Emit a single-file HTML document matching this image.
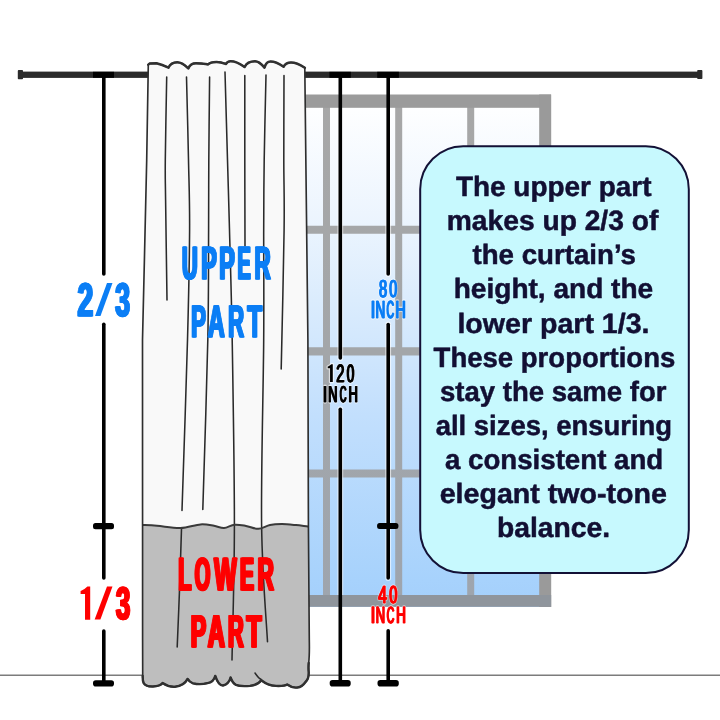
<!DOCTYPE html>
<html><head><meta charset="utf-8"><title>Curtain proportions</title>
<style>
html,body{margin:0;padding:0;background:#fff;width:720px;height:720px;overflow:hidden}
svg{display:block;will-change:transform}
text{font-family:"Liberation Sans",sans-serif;font-weight:bold;text-rendering:geometricPrecision}
</style></head><body>
<svg width="720" height="720" viewBox="0 0 720 720">
<defs>
<linearGradient id="glass" gradientUnits="userSpaceOnUse" x1="0" y1="100" x2="0" y2="600">
<stop offset="0" stop-color="#ffffff"/>
<stop offset="0.25" stop-color="#ebf4fe"/>
<stop offset="0.4" stop-color="#dbecfd"/>
<stop offset="0.632" stop-color="#c2dffd"/>
<stop offset="0.96" stop-color="#a7d2fc"/>
<stop offset="1" stop-color="#a5d0fb"/>
</linearGradient>
<linearGradient id="mull" gradientUnits="userSpaceOnUse" x1="0" y1="100" x2="0" y2="600">
<stop offset="0" stop-color="#a7a7a7"/>
<stop offset="0.5" stop-color="#a3a6a9"/>
<stop offset="1" stop-color="#9ea5ae"/>
</linearGradient>
<clipPath id="winclip"><rect x="300" y="108" width="240" height="487"/></clipPath>
<clipPath id="cclip"><path d="M148.3,64.6 L149.5,63.6 L156.5,63.2 Q162,64.5 168.5,67.6 C169.82,64.69 173.34,62.3 177.3,62.3 C182.25,62.3 186.1,66.27 188.3,68.4 C189.46,65.59 192.53,63.3 196,63.3 C201.4,63.3 205.6,64.02 208,64.4 C209.28,63.02 212.68,61.9 216.5,61.9 C220.78,61.9 224.1,63.27 226,64 C226.69,62.46 228.53,61.2 230.6,61.2 C236.9,61.2 241.8,64.97 244.6,67 C246.16,63.86 250.32,61.3 255,61.3 C259.27,61.3 262.6,65.39 264.5,67.6 C265.4,64.24 267.8,61.5 270.5,61.5 C276.39,61.5 280.98,64.94 283.6,66.8 C284.71,64.44 287.67,62.5 291,62.5 C297.21,62.5 302.04,65.94 304.8,67.8 L306.3,200 L307.9,340 L308.4,525 L309.3,640 Q309.6,655 308.7,663 Q308.3,668 308.7,672 Q309,679 305.5,682 Q302,687.1 297.5,687.5 Q292,688.1 287.2,684.5 Q284.5,686.2 276,685.9 Q268,685.7 261.3,680.3 Q258,684.9 250,685.9 Q240,686.7 236,684.9 Q232.4,682.9 230.6,677.5 Q229,683.9 223,685.5 Q218.5,685.7 215.3,675.9 Q213.5,682.4 207.5,683.1 Q200,685.1 193,683.3 Q189.2,681.9 187.6,678.9 Q184,685.9 175,686.7 Q168.5,687.2 162.6,683.1 Q160,686.4 153,686.5 Q145.5,686.7 143.6,683 Q142.6,681 142.7,676 L142.6,640 L142.5,340 L144.4,260 L146.7,160 Z"/></clipPath>
</defs>
<rect width="720" height="720" fill="#fff"/>
<rect x="250" y="94.5" width="301" height="512.5" fill="url(#glass)"/>
<path d="M323,107h7V596h-7ZM395.2,107h7V596h-7ZM467.2,107h7V596h-7ZM250,225.8H540v8H250ZM250,347.3H540v8.3H250ZM250,469.6H540v7.9H250Z" fill="url(#mull)"/>
<rect x="250" y="94.5" width="301" height="13.3" fill="#9b9b9b"/>
<rect x="539.2" y="94.5" width="12" height="512.5" fill="#9a9a9a"/>
<rect x="250" y="595" width="301.2" height="11.8" fill="#8f959c"/>
<line x1="0" y1="675.3" x2="720" y2="675.3" stroke="#7c7c7c" stroke-width="1.4"/>
<rect x="18" y="71.6" width="683" height="6.3" fill="#2b2b2b"/>
<rect x="17.8" y="70.1" width="5.2" height="9.1" rx="0.8" fill="#2b2b2b"/>
<rect x="697.2" y="70.1" width="5.2" height="9.0" rx="0.8" fill="#2b2b2b"/>
<g clip-path="url(#cclip)">
<rect x="130" y="55" width="190" height="640" fill="#f9f9f9"/>
<path d="M138,524.7 C138.58,524.73 138.33,524.72 141.5,524.9 C144.67,525.08 150.5,525.27 157,525.8 C163.5,526.33 173.25,528.33 180.5,528.1 C187.75,527.87 194.92,524.78 200.5,524.4 C206.08,524.02 210.08,525.18 214,525.8 C217.92,526.42 220.58,528.28 224,528.1 C227.42,527.92 230.83,525.07 234.5,524.7 C238.17,524.33 242.03,525.22 246,525.9 C249.97,526.58 254.3,528.95 258.3,528.8 C262.3,528.65 266.05,525.78 270,525 C273.95,524.22 277.67,524.08 282,524.1 C286.33,524.12 291.67,524.7 296,525.1 C300.33,525.5 305.33,526.23 308,526.5 C310.67,526.77 311.33,526.67 312,526.7 L314,700 L136,700 Z" fill="#bebebe"/>
</g>
<path d="M166.7,77.1 C166.47,90.92 165.48,139.52 165.3,160 C165.12,180.48 165.32,176.67 165.6,200 C165.88,223.33 166.77,283.33 167,300 M186.5,77 C186.83,90.83 187.98,134.5 188.5,160 C189.02,185.5 189.77,200 189.6,230 C189.43,260 188.77,293.25 187.5,340 C186.23,386.75 182.92,482.08 182,510.5 M209.6,77 C209.47,90.83 208.97,134.5 208.8,160 C208.63,185.5 208.77,200 208.6,230 C208.43,260 208.77,293.43 207.8,340 C206.83,386.57 203.63,481.17 202.8,509.4 M225,72 C225.42,86.67 226.75,133.67 227.5,160 C228.25,186.33 228.72,200 229.5,230 C230.28,260 231.38,290.83 232.2,340 C233.02,389.17 234.43,471.67 234.4,525 C234.37,578.33 232.4,637.5 232,660 M244.8,75.6 C244.8,89.67 244.77,131.6 244.8,160 C244.83,188.4 244.97,231.67 245,246 M266,75 C265.7,89.17 264.58,134.17 264.2,160 C263.82,185.83 263.78,200 263.7,230 C263.62,260 264.05,290.83 263.7,340 C263.35,389.17 260.97,474.72 261.6,525 C262.23,575.28 266.52,622.25 267.5,641.7 M284,75.6 C283.97,89.67 283.78,134.27 283.8,160 C283.82,185.73 284.53,195.17 284.1,230 C283.67,264.83 281.68,345.83 281.2,369 M181.5,528.8 C181.17,539 180.22,570.3 179.5,590 C178.78,609.7 177.58,637.5 177.2,647 M255,673.1 C255.58,673.83 257.45,676.42 258.5,677.5 C259.55,678.58 260.83,679.25 261.3,679.6" fill="none" stroke="#2a2a2a" stroke-width="1.55" stroke-linecap="round"/>
<path d="M138,524.7 C138.58,524.73 138.33,524.72 141.5,524.9 C144.67,525.08 150.5,525.27 157,525.8 C163.5,526.33 173.25,528.33 180.5,528.1 C187.75,527.87 194.92,524.78 200.5,524.4 C206.08,524.02 210.08,525.18 214,525.8 C217.92,526.42 220.58,528.28 224,528.1 C227.42,527.92 230.83,525.07 234.5,524.7 C238.17,524.33 242.03,525.22 246,525.9 C249.97,526.58 254.3,528.95 258.3,528.8 C262.3,528.65 266.05,525.78 270,525 C273.95,524.22 277.67,524.08 282,524.1 C286.33,524.12 291.67,524.7 296,525.1 C300.33,525.5 305.33,526.23 308,526.5 C310.67,526.77 311.33,526.67 312,526.7" fill="none" stroke="#3a3a3a" stroke-width="2" clip-path="url(#cclip)"/>
<path d="M148.3,64.6 L149.5,63.6 L156.5,63.2 Q162,64.5 168.5,67.6 C169.82,64.69 173.34,62.3 177.3,62.3 C182.25,62.3 186.1,66.27 188.3,68.4 C189.46,65.59 192.53,63.3 196,63.3 C201.4,63.3 205.6,64.02 208,64.4 C209.28,63.02 212.68,61.9 216.5,61.9 C220.78,61.9 224.1,63.27 226,64 C226.69,62.46 228.53,61.2 230.6,61.2 C236.9,61.2 241.8,64.97 244.6,67 C246.16,63.86 250.32,61.3 255,61.3 C259.27,61.3 262.6,65.39 264.5,67.6 C265.4,64.24 267.8,61.5 270.5,61.5 C276.39,61.5 280.98,64.94 283.6,66.8 C284.71,64.44 287.67,62.5 291,62.5 C297.21,62.5 302.04,65.94 304.8,67.8 L306.3,200 L307.9,340 L308.4,525 L309.3,640 Q309.6,655 308.7,663 Q308.3,668 308.7,672 Q309,679 305.5,682 Q302,687.1 297.5,687.5 Q292,688.1 287.2,684.5 Q284.5,686.2 276,685.9 Q268,685.7 261.3,680.3 Q258,684.9 250,685.9 Q240,686.7 236,684.9 Q232.4,682.9 230.6,677.5 Q229,683.9 223,685.5 Q218.5,685.7 215.3,675.9 Q213.5,682.4 207.5,683.1 Q200,685.1 193,683.3 Q189.2,681.9 187.6,678.9 Q184,685.9 175,686.7 Q168.5,687.2 162.6,683.1 Q160,686.4 153,686.5 Q145.5,686.7 143.6,683 Q142.6,681 142.7,676 L142.6,640 L142.5,340 L144.4,260 L146.7,160 Z" fill="none" stroke="#2e2e2e" stroke-width="1.65" stroke-linejoin="round"/>
<path d="M148.3,64.6 L149.5,63.6 L156.5,63.2 Q162,64.5 168.5,67.6 C169.82,64.69 173.34,62.3 177.3,62.3 C182.25,62.3 186.1,66.27 188.3,68.4 C189.46,65.59 192.53,63.3 196,63.3 C201.4,63.3 205.6,64.02 208,64.4 C209.28,63.02 212.68,61.9 216.5,61.9 C220.78,61.9 224.1,63.27 226,64 C226.69,62.46 228.53,61.2 230.6,61.2 C236.9,61.2 241.8,64.97 244.6,67 C246.16,63.86 250.32,61.3 255,61.3 C259.27,61.3 262.6,65.39 264.5,67.6 C265.4,64.24 267.8,61.5 270.5,61.5 C276.39,61.5 280.98,64.94 283.6,66.8 C284.71,64.44 287.67,62.5 291,62.5 C297.21,62.5 302.04,65.94 304.8,67.8" fill="none" stroke="#303030" stroke-width="2.5" stroke-linejoin="round" stroke-linecap="round"/>
<path d="M308.7,663 Q308.3,668 308.7,672 Q309,679 305.5,682 Q302,687.1 297.5,687.5 Q292,688.1 287.2,684.5 Q284.5,686.2 276,685.9 Q268,685.7 261.3,680.3 Q258,684.9 250,685.9 Q240,686.7 236,684.9 Q232.4,682.9 230.6,677.5 Q229,683.9 223,685.5 Q218.5,685.7 215.3,675.9 Q213.5,682.4 207.5,683.1 Q200,685.1 193,683.3 Q189.2,681.9 187.6,678.9 Q184,685.9 175,686.7 Q168.5,687.2 162.6,683.1 Q160,686.4 153,686.5 Q145.5,686.7 143.6,683 Q142.6,681 142.7,676" fill="none" stroke="#303030" stroke-width="2.4" stroke-linejoin="round" stroke-linecap="round"/>
<g stroke="#fff" stroke-opacity="0.6" stroke-width="5.8" stroke-linecap="round" clip-path="url(#winclip)">
<line x1="340.3" y1="75" x2="340.3" y2="358"/>
<line x1="340.3" y1="409.2" x2="340.3" y2="683"/>
<line x1="388.2" y1="75" x2="388.2" y2="274"/>
<line x1="388.2" y1="324.5" x2="388.2" y2="578"/>
<line x1="388.2" y1="630.8" x2="388.2" y2="683"/>
</g>
<g stroke="#000" stroke-width="3.6" stroke-linecap="round">
<line x1="103.8" y1="75" x2="103.8" y2="274"/>
<line x1="103.8" y1="324.2" x2="103.8" y2="578"/>
<line x1="103.8" y1="631" x2="103.8" y2="683"/>
<line x1="340.3" y1="75" x2="340.3" y2="358"/>
<line x1="340.3" y1="409.2" x2="340.3" y2="683"/>
<line x1="388.2" y1="75" x2="388.2" y2="274"/>
<line x1="388.2" y1="324.5" x2="388.2" y2="578"/>
<line x1="388.2" y1="630.8" x2="388.2" y2="683"/>
</g>
<g fill="#000">
<rect x="93" y="71.8" width="21" height="6" rx="0"/>
<rect x="329.4" y="71.8" width="21.4" height="6" rx="0"/>
<rect x="377.2" y="71.8" width="21.7" height="6" rx="0"/>
<rect x="93" y="522.9" width="21" height="6.3" rx="2.5"/>
<rect x="377.1" y="522.9" width="21.3" height="6.2" rx="2.5"/>
<rect x="93" y="680.2" width="21" height="6.3" rx="2.8"/>
<rect x="329.7" y="680" width="21" height="6.5" rx="2.8"/>
<rect x="377.5" y="680" width="21.3" height="6.5" rx="2.8"/>
</g>
<rect x="420.2" y="146.2" width="268.6" height="426.9" rx="43" ry="43" fill="#c7f9fe" stroke="#131136" stroke-width="2"/>
<path d="M330.05,382.1 L332.8,382.1 L332.8,364.2 L331.32,364.2 Q329.79,365.81 328.01,366.44 L327.7,366.53 L327.7,368.23 L330.05,368.23 Z" fill="#fff" stroke="#fff" stroke-opacity="0.6" stroke-width="2.4" stroke-linejoin="round"/>
<text x="335.84" y="381.67" font-size="24.92" fill="#fff" textLength="8.16" lengthAdjust="spacingAndGlyphs" stroke="#fff" stroke-opacity="0.3" stroke-width="2.9" stroke-linejoin="round" style="font-weight:normal">2</text><text x="336.34" y="381.67" font-size="24.92" fill="#fff" textLength="8.16" lengthAdjust="spacingAndGlyphs" stroke="#fff" stroke-opacity="0.3" stroke-width="2.9" stroke-linejoin="round" style="font-weight:normal">2</text><text x="336.84" y="381.67" font-size="24.92" fill="#fff" textLength="8.16" lengthAdjust="spacingAndGlyphs" stroke="#fff" stroke-opacity="0.3" stroke-width="2.9" stroke-linejoin="round" style="font-weight:normal">2</text>
<text x="346.32" y="381.67" font-size="24.92" fill="#fff" textLength="7.5" lengthAdjust="spacingAndGlyphs" stroke="#fff" stroke-opacity="0.3" stroke-width="2.9" stroke-linejoin="round" style="font-weight:normal">0</text><text x="346.82" y="381.67" font-size="24.92" fill="#fff" textLength="7.5" lengthAdjust="spacingAndGlyphs" stroke="#fff" stroke-opacity="0.3" stroke-width="2.9" stroke-linejoin="round" style="font-weight:normal">0</text><text x="347.32" y="381.67" font-size="24.92" fill="#fff" textLength="7.5" lengthAdjust="spacingAndGlyphs" stroke="#fff" stroke-opacity="0.3" stroke-width="2.9" stroke-linejoin="round" style="font-weight:normal">0</text>
<text x="322.49" y="402" font-size="23.06" fill="#fff" textLength="3.99" lengthAdjust="spacingAndGlyphs" stroke="#fff" stroke-opacity="0.3" stroke-width="2.9" stroke-linejoin="round" style="font-weight:normal">I</text><text x="322.99" y="402" font-size="23.06" fill="#fff" textLength="3.99" lengthAdjust="spacingAndGlyphs" stroke="#fff" stroke-opacity="0.3" stroke-width="2.9" stroke-linejoin="round" style="font-weight:normal">I</text><text x="323.49" y="402" font-size="23.06" fill="#fff" textLength="3.99" lengthAdjust="spacingAndGlyphs" stroke="#fff" stroke-opacity="0.3" stroke-width="2.9" stroke-linejoin="round" style="font-weight:normal">I</text>
<text x="327.83" y="402" font-size="23.06" fill="#fff" textLength="9.24" lengthAdjust="spacingAndGlyphs" stroke="#fff" stroke-opacity="0.3" stroke-width="2.9" stroke-linejoin="round" style="font-weight:normal">N</text><text x="328.33" y="402" font-size="23.06" fill="#fff" textLength="9.24" lengthAdjust="spacingAndGlyphs" stroke="#fff" stroke-opacity="0.3" stroke-width="2.9" stroke-linejoin="round" style="font-weight:normal">N</text><text x="328.83" y="402" font-size="23.06" fill="#fff" textLength="9.24" lengthAdjust="spacingAndGlyphs" stroke="#fff" stroke-opacity="0.3" stroke-width="2.9" stroke-linejoin="round" style="font-weight:normal">N</text>
<text x="339.16" y="402" font-size="23.06" fill="#fff" textLength="6.73" lengthAdjust="spacingAndGlyphs" stroke="#fff" stroke-opacity="0.3" stroke-width="2.9" stroke-linejoin="round" style="font-weight:normal">C</text><text x="339.66" y="402" font-size="23.06" fill="#fff" textLength="6.73" lengthAdjust="spacingAndGlyphs" stroke="#fff" stroke-opacity="0.3" stroke-width="2.9" stroke-linejoin="round" style="font-weight:normal">C</text><text x="340.16" y="402" font-size="23.06" fill="#fff" textLength="6.73" lengthAdjust="spacingAndGlyphs" stroke="#fff" stroke-opacity="0.3" stroke-width="2.9" stroke-linejoin="round" style="font-weight:normal">C</text>
<text x="347.92" y="402" font-size="23.06" fill="#fff" textLength="9.31" lengthAdjust="spacingAndGlyphs" stroke="#fff" stroke-opacity="0.3" stroke-width="2.9" stroke-linejoin="round" style="font-weight:normal">H</text><text x="348.42" y="402" font-size="23.06" fill="#fff" textLength="9.31" lengthAdjust="spacingAndGlyphs" stroke="#fff" stroke-opacity="0.3" stroke-width="2.9" stroke-linejoin="round" style="font-weight:normal">H</text><text x="348.92" y="402" font-size="23.06" fill="#fff" textLength="9.31" lengthAdjust="spacingAndGlyphs" stroke="#fff" stroke-opacity="0.3" stroke-width="2.9" stroke-linejoin="round" style="font-weight:normal">H</text>
<text x="378.38" y="297.12" font-size="24.49" fill="#fff" textLength="8.15" lengthAdjust="spacingAndGlyphs" stroke="#fff" stroke-opacity="0.3" stroke-width="2.95" stroke-linejoin="round" style="font-weight:normal">8</text><text x="378.88" y="297.12" font-size="24.49" fill="#fff" textLength="8.15" lengthAdjust="spacingAndGlyphs" stroke="#fff" stroke-opacity="0.3" stroke-width="2.95" stroke-linejoin="round" style="font-weight:normal">8</text><text x="379.38" y="297.12" font-size="24.49" fill="#fff" textLength="8.15" lengthAdjust="spacingAndGlyphs" stroke="#fff" stroke-opacity="0.3" stroke-width="2.95" stroke-linejoin="round" style="font-weight:normal">8</text>
<text x="388.63" y="297.12" font-size="24.49" fill="#fff" textLength="7.95" lengthAdjust="spacingAndGlyphs" stroke="#fff" stroke-opacity="0.3" stroke-width="2.95" stroke-linejoin="round" style="font-weight:normal">0</text><text x="389.13" y="297.12" font-size="24.49" fill="#fff" textLength="7.95" lengthAdjust="spacingAndGlyphs" stroke="#fff" stroke-opacity="0.3" stroke-width="2.95" stroke-linejoin="round" style="font-weight:normal">0</text><text x="389.63" y="297.12" font-size="24.49" fill="#fff" textLength="7.95" lengthAdjust="spacingAndGlyphs" stroke="#fff" stroke-opacity="0.3" stroke-width="2.95" stroke-linejoin="round" style="font-weight:normal">0</text>
<text x="370.26" y="317.78" font-size="24.59" fill="#fff" textLength="4.49" lengthAdjust="spacingAndGlyphs" stroke="#fff" stroke-opacity="0.3" stroke-width="2.95" stroke-linejoin="round" style="font-weight:normal">I</text><text x="370.76" y="317.78" font-size="24.59" fill="#fff" textLength="4.49" lengthAdjust="spacingAndGlyphs" stroke="#fff" stroke-opacity="0.3" stroke-width="2.95" stroke-linejoin="round" style="font-weight:normal">I</text><text x="371.26" y="317.78" font-size="24.59" fill="#fff" textLength="4.49" lengthAdjust="spacingAndGlyphs" stroke="#fff" stroke-opacity="0.3" stroke-width="2.95" stroke-linejoin="round" style="font-weight:normal">I</text>
<text x="375.05" y="317.78" font-size="24.59" fill="#fff" textLength="9.7" lengthAdjust="spacingAndGlyphs" stroke="#fff" stroke-opacity="0.3" stroke-width="2.95" stroke-linejoin="round" style="font-weight:normal">N</text><text x="375.55" y="317.78" font-size="24.59" fill="#fff" textLength="9.7" lengthAdjust="spacingAndGlyphs" stroke="#fff" stroke-opacity="0.3" stroke-width="2.95" stroke-linejoin="round" style="font-weight:normal">N</text><text x="376.05" y="317.78" font-size="24.59" fill="#fff" textLength="9.7" lengthAdjust="spacingAndGlyphs" stroke="#fff" stroke-opacity="0.3" stroke-width="2.95" stroke-linejoin="round" style="font-weight:normal">N</text>
<text x="385.98" y="317.78" font-size="24.59" fill="#fff" textLength="7.59" lengthAdjust="spacingAndGlyphs" stroke="#fff" stroke-opacity="0.3" stroke-width="2.95" stroke-linejoin="round" style="font-weight:normal">C</text><text x="386.48" y="317.78" font-size="24.59" fill="#fff" textLength="7.59" lengthAdjust="spacingAndGlyphs" stroke="#fff" stroke-opacity="0.3" stroke-width="2.95" stroke-linejoin="round" style="font-weight:normal">C</text><text x="386.98" y="317.78" font-size="24.59" fill="#fff" textLength="7.59" lengthAdjust="spacingAndGlyphs" stroke="#fff" stroke-opacity="0.3" stroke-width="2.95" stroke-linejoin="round" style="font-weight:normal">C</text>
<text x="395.04" y="317.78" font-size="24.59" fill="#fff" textLength="10.23" lengthAdjust="spacingAndGlyphs" stroke="#fff" stroke-opacity="0.3" stroke-width="2.95" stroke-linejoin="round" style="font-weight:normal">H</text><text x="395.54" y="317.78" font-size="24.59" fill="#fff" textLength="10.23" lengthAdjust="spacingAndGlyphs" stroke="#fff" stroke-opacity="0.3" stroke-width="2.95" stroke-linejoin="round" style="font-weight:normal">H</text><text x="396.04" y="317.78" font-size="24.59" fill="#fff" textLength="10.23" lengthAdjust="spacingAndGlyphs" stroke="#fff" stroke-opacity="0.3" stroke-width="2.95" stroke-linejoin="round" style="font-weight:normal">H</text>
<text x="377.81" y="602.95" font-size="24.52" fill="#fff" textLength="8.66" lengthAdjust="spacingAndGlyphs" stroke="#fff" stroke-opacity="0.3" stroke-width="2.8" stroke-linejoin="round" style="font-weight:normal">4</text><text x="378.31" y="602.95" font-size="24.52" fill="#fff" textLength="8.66" lengthAdjust="spacingAndGlyphs" stroke="#fff" stroke-opacity="0.3" stroke-width="2.8" stroke-linejoin="round" style="font-weight:normal">4</text><text x="378.81" y="602.95" font-size="24.52" fill="#fff" textLength="8.66" lengthAdjust="spacingAndGlyphs" stroke="#fff" stroke-opacity="0.3" stroke-width="2.8" stroke-linejoin="round" style="font-weight:normal">4</text>
<text x="388.84" y="602.95" font-size="24.52" fill="#fff" textLength="8.1" lengthAdjust="spacingAndGlyphs" stroke="#fff" stroke-opacity="0.3" stroke-width="2.8" stroke-linejoin="round" style="font-weight:normal">0</text><text x="389.34" y="602.95" font-size="24.52" fill="#fff" textLength="8.1" lengthAdjust="spacingAndGlyphs" stroke="#fff" stroke-opacity="0.3" stroke-width="2.8" stroke-linejoin="round" style="font-weight:normal">0</text><text x="389.84" y="602.95" font-size="24.52" fill="#fff" textLength="8.1" lengthAdjust="spacingAndGlyphs" stroke="#fff" stroke-opacity="0.3" stroke-width="2.8" stroke-linejoin="round" style="font-weight:normal">0</text>
<text x="370.22" y="623.44" font-size="23.36" fill="#fff" textLength="4.46" lengthAdjust="spacingAndGlyphs" stroke="#fff" stroke-opacity="0.3" stroke-width="2.8" stroke-linejoin="round" style="font-weight:normal">I</text><text x="370.72" y="623.44" font-size="23.36" fill="#fff" textLength="4.46" lengthAdjust="spacingAndGlyphs" stroke="#fff" stroke-opacity="0.3" stroke-width="2.8" stroke-linejoin="round" style="font-weight:normal">I</text><text x="371.22" y="623.44" font-size="23.36" fill="#fff" textLength="4.46" lengthAdjust="spacingAndGlyphs" stroke="#fff" stroke-opacity="0.3" stroke-width="2.8" stroke-linejoin="round" style="font-weight:normal">I</text>
<text x="375.25" y="623.44" font-size="23.36" fill="#fff" textLength="9.35" lengthAdjust="spacingAndGlyphs" stroke="#fff" stroke-opacity="0.3" stroke-width="2.8" stroke-linejoin="round" style="font-weight:normal">N</text><text x="375.75" y="623.44" font-size="23.36" fill="#fff" textLength="9.35" lengthAdjust="spacingAndGlyphs" stroke="#fff" stroke-opacity="0.3" stroke-width="2.8" stroke-linejoin="round" style="font-weight:normal">N</text><text x="376.25" y="623.44" font-size="23.36" fill="#fff" textLength="9.35" lengthAdjust="spacingAndGlyphs" stroke="#fff" stroke-opacity="0.3" stroke-width="2.8" stroke-linejoin="round" style="font-weight:normal">N</text>
<text x="386.22" y="623.44" font-size="23.36" fill="#fff" textLength="7.52" lengthAdjust="spacingAndGlyphs" stroke="#fff" stroke-opacity="0.3" stroke-width="2.8" stroke-linejoin="round" style="font-weight:normal">C</text><text x="386.72" y="623.44" font-size="23.36" fill="#fff" textLength="7.52" lengthAdjust="spacingAndGlyphs" stroke="#fff" stroke-opacity="0.3" stroke-width="2.8" stroke-linejoin="round" style="font-weight:normal">C</text><text x="387.22" y="623.44" font-size="23.36" fill="#fff" textLength="7.52" lengthAdjust="spacingAndGlyphs" stroke="#fff" stroke-opacity="0.3" stroke-width="2.8" stroke-linejoin="round" style="font-weight:normal">C</text>
<text x="395.83" y="623.44" font-size="23.36" fill="#fff" textLength="9.51" lengthAdjust="spacingAndGlyphs" stroke="#fff" stroke-opacity="0.3" stroke-width="2.8" stroke-linejoin="round" style="font-weight:normal">H</text><text x="396.33" y="623.44" font-size="23.36" fill="#fff" textLength="9.51" lengthAdjust="spacingAndGlyphs" stroke="#fff" stroke-opacity="0.3" stroke-width="2.8" stroke-linejoin="round" style="font-weight:normal">H</text><text x="396.83" y="623.44" font-size="23.36" fill="#fff" textLength="9.51" lengthAdjust="spacingAndGlyphs" stroke="#fff" stroke-opacity="0.3" stroke-width="2.8" stroke-linejoin="round" style="font-weight:normal">H</text>
<text x="181.21" y="279.08" font-size="46.35" fill="#0b7ef5" textLength="15.91" lengthAdjust="spacingAndGlyphs" stroke="#0b7ef5" stroke-width="1.2" stroke-linejoin="round">U</text><text x="181.81" y="279.08" font-size="46.35" fill="#0b7ef5" textLength="15.91" lengthAdjust="spacingAndGlyphs" stroke="#0b7ef5" stroke-width="1.2" stroke-linejoin="round">U</text><text x="182.41" y="279.08" font-size="46.35" fill="#0b7ef5" textLength="15.91" lengthAdjust="spacingAndGlyphs" stroke="#0b7ef5" stroke-width="1.2" stroke-linejoin="round">U</text>
<text x="200.47" y="279.08" font-size="46.35" fill="#0b7ef5" textLength="15.78" lengthAdjust="spacingAndGlyphs" stroke="#0b7ef5" stroke-width="1.2" stroke-linejoin="round">P</text><text x="201.07" y="279.08" font-size="46.35" fill="#0b7ef5" textLength="15.78" lengthAdjust="spacingAndGlyphs" stroke="#0b7ef5" stroke-width="1.2" stroke-linejoin="round">P</text><text x="201.67" y="279.08" font-size="46.35" fill="#0b7ef5" textLength="15.78" lengthAdjust="spacingAndGlyphs" stroke="#0b7ef5" stroke-width="1.2" stroke-linejoin="round">P</text>
<text x="218.45" y="279.08" font-size="46.35" fill="#0b7ef5" textLength="15.82" lengthAdjust="spacingAndGlyphs" stroke="#0b7ef5" stroke-width="1.2" stroke-linejoin="round">P</text><text x="219.05" y="279.08" font-size="46.35" fill="#0b7ef5" textLength="15.82" lengthAdjust="spacingAndGlyphs" stroke="#0b7ef5" stroke-width="1.2" stroke-linejoin="round">P</text><text x="219.65" y="279.08" font-size="46.35" fill="#0b7ef5" textLength="15.82" lengthAdjust="spacingAndGlyphs" stroke="#0b7ef5" stroke-width="1.2" stroke-linejoin="round">P</text>
<text x="236.81" y="279.08" font-size="46.35" fill="#0b7ef5" textLength="13.4" lengthAdjust="spacingAndGlyphs" stroke="#0b7ef5" stroke-width="1.2" stroke-linejoin="round">E</text><text x="237.41" y="279.08" font-size="46.35" fill="#0b7ef5" textLength="13.4" lengthAdjust="spacingAndGlyphs" stroke="#0b7ef5" stroke-width="1.2" stroke-linejoin="round">E</text><text x="238.01" y="279.08" font-size="46.35" fill="#0b7ef5" textLength="13.4" lengthAdjust="spacingAndGlyphs" stroke="#0b7ef5" stroke-width="1.2" stroke-linejoin="round">E</text>
<text x="253.86" y="279.08" font-size="46.35" fill="#0b7ef5" textLength="16.34" lengthAdjust="spacingAndGlyphs" stroke="#0b7ef5" stroke-width="1.2" stroke-linejoin="round">R</text><text x="254.46" y="279.08" font-size="46.35" fill="#0b7ef5" textLength="16.34" lengthAdjust="spacingAndGlyphs" stroke="#0b7ef5" stroke-width="1.2" stroke-linejoin="round">R</text><text x="255.06" y="279.08" font-size="46.35" fill="#0b7ef5" textLength="16.34" lengthAdjust="spacingAndGlyphs" stroke="#0b7ef5" stroke-width="1.2" stroke-linejoin="round">R</text>
<text x="190.52" y="336.53" font-size="45.32" fill="#0b7ef5" textLength="14.83" lengthAdjust="spacingAndGlyphs" stroke="#0b7ef5" stroke-width="1.2" stroke-linejoin="round">P</text><text x="191.12" y="336.53" font-size="45.32" fill="#0b7ef5" textLength="14.83" lengthAdjust="spacingAndGlyphs" stroke="#0b7ef5" stroke-width="1.2" stroke-linejoin="round">P</text><text x="191.72" y="336.53" font-size="45.32" fill="#0b7ef5" textLength="14.83" lengthAdjust="spacingAndGlyphs" stroke="#0b7ef5" stroke-width="1.2" stroke-linejoin="round">P</text>
<text x="207.29" y="336.53" font-size="45.32" fill="#0b7ef5" textLength="16.82" lengthAdjust="spacingAndGlyphs" stroke="#0b7ef5" stroke-width="1.2" stroke-linejoin="round">A</text><text x="207.89" y="336.53" font-size="45.32" fill="#0b7ef5" textLength="16.82" lengthAdjust="spacingAndGlyphs" stroke="#0b7ef5" stroke-width="1.2" stroke-linejoin="round">A</text><text x="208.49" y="336.53" font-size="45.32" fill="#0b7ef5" textLength="16.82" lengthAdjust="spacingAndGlyphs" stroke="#0b7ef5" stroke-width="1.2" stroke-linejoin="round">A</text>
<text x="227.53" y="336.53" font-size="45.32" fill="#0b7ef5" textLength="15.94" lengthAdjust="spacingAndGlyphs" stroke="#0b7ef5" stroke-width="1.2" stroke-linejoin="round">R</text><text x="228.13" y="336.53" font-size="45.32" fill="#0b7ef5" textLength="15.94" lengthAdjust="spacingAndGlyphs" stroke="#0b7ef5" stroke-width="1.2" stroke-linejoin="round">R</text><text x="228.73" y="336.53" font-size="45.32" fill="#0b7ef5" textLength="15.94" lengthAdjust="spacingAndGlyphs" stroke="#0b7ef5" stroke-width="1.2" stroke-linejoin="round">R</text>
<text x="246.83" y="336.53" font-size="45.32" fill="#0b7ef5" textLength="14.6" lengthAdjust="spacingAndGlyphs" stroke="#0b7ef5" stroke-width="1.2" stroke-linejoin="round">T</text><text x="247.43" y="336.53" font-size="45.32" fill="#0b7ef5" textLength="14.6" lengthAdjust="spacingAndGlyphs" stroke="#0b7ef5" stroke-width="1.2" stroke-linejoin="round">T</text><text x="248.03" y="336.53" font-size="45.32" fill="#0b7ef5" textLength="14.6" lengthAdjust="spacingAndGlyphs" stroke="#0b7ef5" stroke-width="1.2" stroke-linejoin="round">T</text>
<text x="177.48" y="590.22" font-size="46.02" fill="#fe0000" textLength="13.29" lengthAdjust="spacingAndGlyphs" stroke="#fe0000" stroke-width="1.5" stroke-linejoin="round">L</text><text x="178.28" y="590.22" font-size="46.02" fill="#fe0000" textLength="13.29" lengthAdjust="spacingAndGlyphs" stroke="#fe0000" stroke-width="1.5" stroke-linejoin="round">L</text><text x="179.08" y="590.22" font-size="46.02" fill="#fe0000" textLength="13.29" lengthAdjust="spacingAndGlyphs" stroke="#fe0000" stroke-width="1.5" stroke-linejoin="round">L</text>
<text x="193.9" y="590.22" font-size="46.02" fill="#fe0000" textLength="15.56" lengthAdjust="spacingAndGlyphs" stroke="#fe0000" stroke-width="1.5" stroke-linejoin="round">O</text><text x="194.7" y="590.22" font-size="46.02" fill="#fe0000" textLength="15.56" lengthAdjust="spacingAndGlyphs" stroke="#fe0000" stroke-width="1.5" stroke-linejoin="round">O</text><text x="195.5" y="590.22" font-size="46.02" fill="#fe0000" textLength="15.56" lengthAdjust="spacingAndGlyphs" stroke="#fe0000" stroke-width="1.5" stroke-linejoin="round">O</text>
<text x="213.41" y="590.22" font-size="46.02" fill="#fe0000" textLength="22.28" lengthAdjust="spacingAndGlyphs" stroke="#fe0000" stroke-width="1.5" stroke-linejoin="round">W</text><text x="214.21" y="590.22" font-size="46.02" fill="#fe0000" textLength="22.28" lengthAdjust="spacingAndGlyphs" stroke="#fe0000" stroke-width="1.5" stroke-linejoin="round">W</text><text x="215.01" y="590.22" font-size="46.02" fill="#fe0000" textLength="22.28" lengthAdjust="spacingAndGlyphs" stroke="#fe0000" stroke-width="1.5" stroke-linejoin="round">W</text>
<text x="239.37" y="590.22" font-size="46.02" fill="#fe0000" textLength="13.8" lengthAdjust="spacingAndGlyphs" stroke="#fe0000" stroke-width="1.5" stroke-linejoin="round">E</text><text x="240.17" y="590.22" font-size="46.02" fill="#fe0000" textLength="13.8" lengthAdjust="spacingAndGlyphs" stroke="#fe0000" stroke-width="1.5" stroke-linejoin="round">E</text><text x="240.97" y="590.22" font-size="46.02" fill="#fe0000" textLength="13.8" lengthAdjust="spacingAndGlyphs" stroke="#fe0000" stroke-width="1.5" stroke-linejoin="round">E</text>
<text x="256.65" y="590.22" font-size="46.02" fill="#fe0000" textLength="16.37" lengthAdjust="spacingAndGlyphs" stroke="#fe0000" stroke-width="1.5" stroke-linejoin="round">R</text><text x="257.45" y="590.22" font-size="46.02" fill="#fe0000" textLength="16.37" lengthAdjust="spacingAndGlyphs" stroke="#fe0000" stroke-width="1.5" stroke-linejoin="round">R</text><text x="258.25" y="590.22" font-size="46.02" fill="#fe0000" textLength="16.37" lengthAdjust="spacingAndGlyphs" stroke="#fe0000" stroke-width="1.5" stroke-linejoin="round">R</text>
<text x="189.96" y="647.48" font-size="45.62" fill="#fe0000" textLength="15.42" lengthAdjust="spacingAndGlyphs" stroke="#fe0000" stroke-width="1.5" stroke-linejoin="round">P</text><text x="190.76" y="647.48" font-size="45.62" fill="#fe0000" textLength="15.42" lengthAdjust="spacingAndGlyphs" stroke="#fe0000" stroke-width="1.5" stroke-linejoin="round">P</text><text x="191.56" y="647.48" font-size="45.62" fill="#fe0000" textLength="15.42" lengthAdjust="spacingAndGlyphs" stroke="#fe0000" stroke-width="1.5" stroke-linejoin="round">P</text>
<text x="207.11" y="647.48" font-size="45.62" fill="#fe0000" textLength="16.91" lengthAdjust="spacingAndGlyphs" stroke="#fe0000" stroke-width="1.5" stroke-linejoin="round">A</text><text x="207.91" y="647.48" font-size="45.62" fill="#fe0000" textLength="16.91" lengthAdjust="spacingAndGlyphs" stroke="#fe0000" stroke-width="1.5" stroke-linejoin="round">A</text><text x="208.71" y="647.48" font-size="45.62" fill="#fe0000" textLength="16.91" lengthAdjust="spacingAndGlyphs" stroke="#fe0000" stroke-width="1.5" stroke-linejoin="round">A</text>
<text x="227.16" y="647.48" font-size="45.62" fill="#fe0000" textLength="15.68" lengthAdjust="spacingAndGlyphs" stroke="#fe0000" stroke-width="1.5" stroke-linejoin="round">R</text><text x="227.96" y="647.48" font-size="45.62" fill="#fe0000" textLength="15.68" lengthAdjust="spacingAndGlyphs" stroke="#fe0000" stroke-width="1.5" stroke-linejoin="round">R</text><text x="228.76" y="647.48" font-size="45.62" fill="#fe0000" textLength="15.68" lengthAdjust="spacingAndGlyphs" stroke="#fe0000" stroke-width="1.5" stroke-linejoin="round">R</text>
<text x="245.64" y="647.48" font-size="45.62" fill="#fe0000" textLength="15.05" lengthAdjust="spacingAndGlyphs" stroke="#fe0000" stroke-width="1.5" stroke-linejoin="round">T</text><text x="246.44" y="647.48" font-size="45.62" fill="#fe0000" textLength="15.05" lengthAdjust="spacingAndGlyphs" stroke="#fe0000" stroke-width="1.5" stroke-linejoin="round">T</text><text x="247.24" y="647.48" font-size="45.62" fill="#fe0000" textLength="15.05" lengthAdjust="spacingAndGlyphs" stroke="#fe0000" stroke-width="1.5" stroke-linejoin="round">T</text>
<text x="76.8" y="315.5" font-size="46.95" fill="#0b7ef5" textLength="15.72" lengthAdjust="spacingAndGlyphs" stroke="#0b7ef5" stroke-width="1.2" stroke-linejoin="round">2</text><text x="77.5" y="315.5" font-size="46.95" fill="#0b7ef5" textLength="15.72" lengthAdjust="spacingAndGlyphs" stroke="#0b7ef5" stroke-width="1.2" stroke-linejoin="round">2</text><text x="78.2" y="315.5" font-size="46.95" fill="#0b7ef5" textLength="15.72" lengthAdjust="spacingAndGlyphs" stroke="#0b7ef5" stroke-width="1.2" stroke-linejoin="round">2</text>
<text x="114.43" y="315.5" font-size="46.95" fill="#0b7ef5" textLength="14.94" lengthAdjust="spacingAndGlyphs" stroke="#0b7ef5" stroke-width="1.2" stroke-linejoin="round">3</text><text x="115.13" y="315.5" font-size="46.95" fill="#0b7ef5" textLength="14.94" lengthAdjust="spacingAndGlyphs" stroke="#0b7ef5" stroke-width="1.2" stroke-linejoin="round">3</text><text x="115.83" y="315.5" font-size="46.95" fill="#0b7ef5" textLength="14.94" lengthAdjust="spacingAndGlyphs" stroke="#0b7ef5" stroke-width="1.2" stroke-linejoin="round">3</text>
<path d="M85.02,619.7 L90.2,619.7 L90.2,586.6 L87.42,586.6 Q84.54,589.58 81.18,590.74 L80.6,590.9 L80.6,594.05 L85.02,594.05 Z" fill="#fe0000"/>
<text x="115.15" y="618.56" font-size="45.59" fill="#fe0000" textLength="14.41" lengthAdjust="spacingAndGlyphs" stroke="#fe0000" stroke-width="1.5" stroke-linejoin="round">3</text><text x="115.85" y="618.56" font-size="45.59" fill="#fe0000" textLength="14.41" lengthAdjust="spacingAndGlyphs" stroke="#fe0000" stroke-width="1.5" stroke-linejoin="round">3</text><text x="116.55" y="618.56" font-size="45.59" fill="#fe0000" textLength="14.41" lengthAdjust="spacingAndGlyphs" stroke="#fe0000" stroke-width="1.5" stroke-linejoin="round">3</text>
<path d="M330.05,382.1 L332.8,382.1 L332.8,364.2 L331.32,364.2 Q329.79,365.81 328.01,366.44 L327.7,366.53 L327.7,368.23 L330.05,368.23 Z" fill="#000"/>
<text x="335.84" y="381.67" font-size="24.92" fill="#000" textLength="8.16" lengthAdjust="spacingAndGlyphs" stroke="#000" stroke-width="0.5" stroke-linejoin="round" style="font-weight:normal">2</text><text x="336.34" y="381.67" font-size="24.92" fill="#000" textLength="8.16" lengthAdjust="spacingAndGlyphs" stroke="#000" stroke-width="0.5" stroke-linejoin="round" style="font-weight:normal">2</text><text x="336.84" y="381.67" font-size="24.92" fill="#000" textLength="8.16" lengthAdjust="spacingAndGlyphs" stroke="#000" stroke-width="0.5" stroke-linejoin="round" style="font-weight:normal">2</text>
<text x="346.32" y="381.67" font-size="24.92" fill="#000" textLength="7.5" lengthAdjust="spacingAndGlyphs" stroke="#000" stroke-width="0.5" stroke-linejoin="round" style="font-weight:normal">0</text><text x="346.82" y="381.67" font-size="24.92" fill="#000" textLength="7.5" lengthAdjust="spacingAndGlyphs" stroke="#000" stroke-width="0.5" stroke-linejoin="round" style="font-weight:normal">0</text><text x="347.32" y="381.67" font-size="24.92" fill="#000" textLength="7.5" lengthAdjust="spacingAndGlyphs" stroke="#000" stroke-width="0.5" stroke-linejoin="round" style="font-weight:normal">0</text>
<text x="322.49" y="402" font-size="23.06" fill="#000" textLength="3.99" lengthAdjust="spacingAndGlyphs" stroke="#000" stroke-width="0.5" stroke-linejoin="round" style="font-weight:normal">I</text><text x="322.99" y="402" font-size="23.06" fill="#000" textLength="3.99" lengthAdjust="spacingAndGlyphs" stroke="#000" stroke-width="0.5" stroke-linejoin="round" style="font-weight:normal">I</text><text x="323.49" y="402" font-size="23.06" fill="#000" textLength="3.99" lengthAdjust="spacingAndGlyphs" stroke="#000" stroke-width="0.5" stroke-linejoin="round" style="font-weight:normal">I</text>
<text x="327.83" y="402" font-size="23.06" fill="#000" textLength="9.24" lengthAdjust="spacingAndGlyphs" stroke="#000" stroke-width="0.5" stroke-linejoin="round" style="font-weight:normal">N</text><text x="328.33" y="402" font-size="23.06" fill="#000" textLength="9.24" lengthAdjust="spacingAndGlyphs" stroke="#000" stroke-width="0.5" stroke-linejoin="round" style="font-weight:normal">N</text><text x="328.83" y="402" font-size="23.06" fill="#000" textLength="9.24" lengthAdjust="spacingAndGlyphs" stroke="#000" stroke-width="0.5" stroke-linejoin="round" style="font-weight:normal">N</text>
<text x="339.16" y="402" font-size="23.06" fill="#000" textLength="6.73" lengthAdjust="spacingAndGlyphs" stroke="#000" stroke-width="0.5" stroke-linejoin="round" style="font-weight:normal">C</text><text x="339.66" y="402" font-size="23.06" fill="#000" textLength="6.73" lengthAdjust="spacingAndGlyphs" stroke="#000" stroke-width="0.5" stroke-linejoin="round" style="font-weight:normal">C</text><text x="340.16" y="402" font-size="23.06" fill="#000" textLength="6.73" lengthAdjust="spacingAndGlyphs" stroke="#000" stroke-width="0.5" stroke-linejoin="round" style="font-weight:normal">C</text>
<text x="347.92" y="402" font-size="23.06" fill="#000" textLength="9.31" lengthAdjust="spacingAndGlyphs" stroke="#000" stroke-width="0.5" stroke-linejoin="round" style="font-weight:normal">H</text><text x="348.42" y="402" font-size="23.06" fill="#000" textLength="9.31" lengthAdjust="spacingAndGlyphs" stroke="#000" stroke-width="0.5" stroke-linejoin="round" style="font-weight:normal">H</text><text x="348.92" y="402" font-size="23.06" fill="#000" textLength="9.31" lengthAdjust="spacingAndGlyphs" stroke="#000" stroke-width="0.5" stroke-linejoin="round" style="font-weight:normal">H</text>
<text x="378.38" y="297.12" font-size="24.49" fill="#0b7ef5" textLength="8.15" lengthAdjust="spacingAndGlyphs" stroke="#0b7ef5" stroke-width="0.55" stroke-linejoin="round" style="font-weight:normal">8</text><text x="378.88" y="297.12" font-size="24.49" fill="#0b7ef5" textLength="8.15" lengthAdjust="spacingAndGlyphs" stroke="#0b7ef5" stroke-width="0.55" stroke-linejoin="round" style="font-weight:normal">8</text><text x="379.38" y="297.12" font-size="24.49" fill="#0b7ef5" textLength="8.15" lengthAdjust="spacingAndGlyphs" stroke="#0b7ef5" stroke-width="0.55" stroke-linejoin="round" style="font-weight:normal">8</text>
<text x="388.63" y="297.12" font-size="24.49" fill="#0b7ef5" textLength="7.95" lengthAdjust="spacingAndGlyphs" stroke="#0b7ef5" stroke-width="0.55" stroke-linejoin="round" style="font-weight:normal">0</text><text x="389.13" y="297.12" font-size="24.49" fill="#0b7ef5" textLength="7.95" lengthAdjust="spacingAndGlyphs" stroke="#0b7ef5" stroke-width="0.55" stroke-linejoin="round" style="font-weight:normal">0</text><text x="389.63" y="297.12" font-size="24.49" fill="#0b7ef5" textLength="7.95" lengthAdjust="spacingAndGlyphs" stroke="#0b7ef5" stroke-width="0.55" stroke-linejoin="round" style="font-weight:normal">0</text>
<text x="370.26" y="317.78" font-size="24.59" fill="#0b7ef5" textLength="4.49" lengthAdjust="spacingAndGlyphs" stroke="#0b7ef5" stroke-width="0.55" stroke-linejoin="round" style="font-weight:normal">I</text><text x="370.76" y="317.78" font-size="24.59" fill="#0b7ef5" textLength="4.49" lengthAdjust="spacingAndGlyphs" stroke="#0b7ef5" stroke-width="0.55" stroke-linejoin="round" style="font-weight:normal">I</text><text x="371.26" y="317.78" font-size="24.59" fill="#0b7ef5" textLength="4.49" lengthAdjust="spacingAndGlyphs" stroke="#0b7ef5" stroke-width="0.55" stroke-linejoin="round" style="font-weight:normal">I</text>
<text x="375.05" y="317.78" font-size="24.59" fill="#0b7ef5" textLength="9.7" lengthAdjust="spacingAndGlyphs" stroke="#0b7ef5" stroke-width="0.55" stroke-linejoin="round" style="font-weight:normal">N</text><text x="375.55" y="317.78" font-size="24.59" fill="#0b7ef5" textLength="9.7" lengthAdjust="spacingAndGlyphs" stroke="#0b7ef5" stroke-width="0.55" stroke-linejoin="round" style="font-weight:normal">N</text><text x="376.05" y="317.78" font-size="24.59" fill="#0b7ef5" textLength="9.7" lengthAdjust="spacingAndGlyphs" stroke="#0b7ef5" stroke-width="0.55" stroke-linejoin="round" style="font-weight:normal">N</text>
<text x="385.98" y="317.78" font-size="24.59" fill="#0b7ef5" textLength="7.59" lengthAdjust="spacingAndGlyphs" stroke="#0b7ef5" stroke-width="0.55" stroke-linejoin="round" style="font-weight:normal">C</text><text x="386.48" y="317.78" font-size="24.59" fill="#0b7ef5" textLength="7.59" lengthAdjust="spacingAndGlyphs" stroke="#0b7ef5" stroke-width="0.55" stroke-linejoin="round" style="font-weight:normal">C</text><text x="386.98" y="317.78" font-size="24.59" fill="#0b7ef5" textLength="7.59" lengthAdjust="spacingAndGlyphs" stroke="#0b7ef5" stroke-width="0.55" stroke-linejoin="round" style="font-weight:normal">C</text>
<text x="395.04" y="317.78" font-size="24.59" fill="#0b7ef5" textLength="10.23" lengthAdjust="spacingAndGlyphs" stroke="#0b7ef5" stroke-width="0.55" stroke-linejoin="round" style="font-weight:normal">H</text><text x="395.54" y="317.78" font-size="24.59" fill="#0b7ef5" textLength="10.23" lengthAdjust="spacingAndGlyphs" stroke="#0b7ef5" stroke-width="0.55" stroke-linejoin="round" style="font-weight:normal">H</text><text x="396.04" y="317.78" font-size="24.59" fill="#0b7ef5" textLength="10.23" lengthAdjust="spacingAndGlyphs" stroke="#0b7ef5" stroke-width="0.55" stroke-linejoin="round" style="font-weight:normal">H</text>
<text x="377.81" y="602.95" font-size="24.52" fill="#fe0000" textLength="8.66" lengthAdjust="spacingAndGlyphs" stroke="#fe0000" stroke-width="0.6" stroke-linejoin="round" style="font-weight:normal">4</text><text x="378.31" y="602.95" font-size="24.52" fill="#fe0000" textLength="8.66" lengthAdjust="spacingAndGlyphs" stroke="#fe0000" stroke-width="0.6" stroke-linejoin="round" style="font-weight:normal">4</text><text x="378.81" y="602.95" font-size="24.52" fill="#fe0000" textLength="8.66" lengthAdjust="spacingAndGlyphs" stroke="#fe0000" stroke-width="0.6" stroke-linejoin="round" style="font-weight:normal">4</text>
<text x="388.84" y="602.95" font-size="24.52" fill="#fe0000" textLength="8.1" lengthAdjust="spacingAndGlyphs" stroke="#fe0000" stroke-width="0.6" stroke-linejoin="round" style="font-weight:normal">0</text><text x="389.34" y="602.95" font-size="24.52" fill="#fe0000" textLength="8.1" lengthAdjust="spacingAndGlyphs" stroke="#fe0000" stroke-width="0.6" stroke-linejoin="round" style="font-weight:normal">0</text><text x="389.84" y="602.95" font-size="24.52" fill="#fe0000" textLength="8.1" lengthAdjust="spacingAndGlyphs" stroke="#fe0000" stroke-width="0.6" stroke-linejoin="round" style="font-weight:normal">0</text>
<text x="370.22" y="623.44" font-size="23.36" fill="#fe0000" textLength="4.46" lengthAdjust="spacingAndGlyphs" stroke="#fe0000" stroke-width="0.6" stroke-linejoin="round" style="font-weight:normal">I</text><text x="370.72" y="623.44" font-size="23.36" fill="#fe0000" textLength="4.46" lengthAdjust="spacingAndGlyphs" stroke="#fe0000" stroke-width="0.6" stroke-linejoin="round" style="font-weight:normal">I</text><text x="371.22" y="623.44" font-size="23.36" fill="#fe0000" textLength="4.46" lengthAdjust="spacingAndGlyphs" stroke="#fe0000" stroke-width="0.6" stroke-linejoin="round" style="font-weight:normal">I</text>
<text x="375.25" y="623.44" font-size="23.36" fill="#fe0000" textLength="9.35" lengthAdjust="spacingAndGlyphs" stroke="#fe0000" stroke-width="0.6" stroke-linejoin="round" style="font-weight:normal">N</text><text x="375.75" y="623.44" font-size="23.36" fill="#fe0000" textLength="9.35" lengthAdjust="spacingAndGlyphs" stroke="#fe0000" stroke-width="0.6" stroke-linejoin="round" style="font-weight:normal">N</text><text x="376.25" y="623.44" font-size="23.36" fill="#fe0000" textLength="9.35" lengthAdjust="spacingAndGlyphs" stroke="#fe0000" stroke-width="0.6" stroke-linejoin="round" style="font-weight:normal">N</text>
<text x="386.22" y="623.44" font-size="23.36" fill="#fe0000" textLength="7.52" lengthAdjust="spacingAndGlyphs" stroke="#fe0000" stroke-width="0.6" stroke-linejoin="round" style="font-weight:normal">C</text><text x="386.72" y="623.44" font-size="23.36" fill="#fe0000" textLength="7.52" lengthAdjust="spacingAndGlyphs" stroke="#fe0000" stroke-width="0.6" stroke-linejoin="round" style="font-weight:normal">C</text><text x="387.22" y="623.44" font-size="23.36" fill="#fe0000" textLength="7.52" lengthAdjust="spacingAndGlyphs" stroke="#fe0000" stroke-width="0.6" stroke-linejoin="round" style="font-weight:normal">C</text>
<text x="395.83" y="623.44" font-size="23.36" fill="#fe0000" textLength="9.51" lengthAdjust="spacingAndGlyphs" stroke="#fe0000" stroke-width="0.6" stroke-linejoin="round" style="font-weight:normal">H</text><text x="396.33" y="623.44" font-size="23.36" fill="#fe0000" textLength="9.51" lengthAdjust="spacingAndGlyphs" stroke="#fe0000" stroke-width="0.6" stroke-linejoin="round" style="font-weight:normal">H</text><text x="396.83" y="623.44" font-size="23.36" fill="#fe0000" textLength="9.51" lengthAdjust="spacingAndGlyphs" stroke="#fe0000" stroke-width="0.6" stroke-linejoin="round" style="font-weight:normal">H</text>
<polygon points="107,283 112.5,283 100.5,316 95,316" fill="#0b7ef5"/>
<polygon points="107,586.6 112.5,586.6 100.4,619.6 94.6,619.6" fill="#fe0000"/>
<text x="455.92" y="195.95" font-size="27.89" fill="#120f33" textLength="195.59" lengthAdjust="spacingAndGlyphs" stroke="#120f33" stroke-width="0.5" stroke-linejoin="round">The upper part</text>
<text x="446.8" y="230.1" font-size="27.89" fill="#120f33" textLength="211.54" lengthAdjust="spacingAndGlyphs" stroke="#120f33" stroke-width="0.5" stroke-linejoin="round">makes up 2/3 of</text>
<text x="472.47" y="264.25" font-size="27.89" fill="#120f33" textLength="163.5" lengthAdjust="spacingAndGlyphs" stroke="#120f33" stroke-width="0.5" stroke-linejoin="round">the curtain’s</text>
<text x="453.74" y="298.4" font-size="27.89" fill="#120f33" textLength="199.4" lengthAdjust="spacingAndGlyphs" stroke="#120f33" stroke-width="0.5" stroke-linejoin="round">height, and the</text>
<text x="457.42" y="332.55" font-size="27.89" fill="#120f33" textLength="192.1" lengthAdjust="spacingAndGlyphs" stroke="#120f33" stroke-width="0.5" stroke-linejoin="round">lower part 1/3.</text>
<text x="433.58" y="366.7" font-size="27.89" fill="#120f33" textLength="241.69" lengthAdjust="spacingAndGlyphs" stroke="#120f33" stroke-width="0.5" stroke-linejoin="round">These proportions</text>
<text x="440.06" y="400.85" font-size="27.89" fill="#120f33" textLength="226.37" lengthAdjust="spacingAndGlyphs" stroke="#120f33" stroke-width="0.5" stroke-linejoin="round">stay the same for</text>
<text x="435.65" y="435" font-size="27.89" fill="#120f33" textLength="236.48" lengthAdjust="spacingAndGlyphs" stroke="#120f33" stroke-width="0.5" stroke-linejoin="round">all sizes, ensuring</text>
<text x="444.96" y="469.15" font-size="27.89" fill="#120f33" textLength="218.26" lengthAdjust="spacingAndGlyphs" stroke="#120f33" stroke-width="0.5" stroke-linejoin="round">a consistent and</text>
<text x="439.67" y="503.3" font-size="27.89" fill="#120f33" textLength="227.28" lengthAdjust="spacingAndGlyphs" stroke="#120f33" stroke-width="0.5" stroke-linejoin="round">elegant two-tone</text>
<text x="496.96" y="537.45" font-size="27.89" fill="#120f33" textLength="113.21" lengthAdjust="spacingAndGlyphs" stroke="#120f33" stroke-width="0.5" stroke-linejoin="round">balance.</text>
</svg>
</body></html>
